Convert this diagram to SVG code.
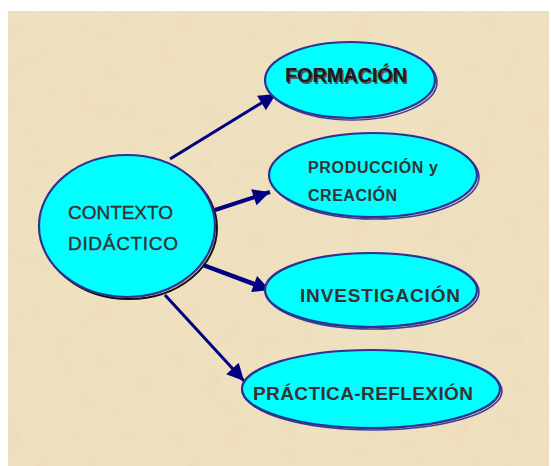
<svg xmlns="http://www.w3.org/2000/svg" width="551" height="466" viewBox="0 0 551 466">
<style>
.node{fill:#00ffff;stroke:#2e3192;stroke-width:2.2}
.shadow{fill:none;stroke:#3a3d99;stroke-width:1.6}
.t{font-family:"Liberation Sans",Arial,sans-serif;fill:#333333}
.b{font-weight:bold}
.conn{stroke:#000080;fill:none}
</style>
<defs>
<marker id="ah" viewBox="0 0 10 10" refX="10" refY="5" markerUnits="userSpaceOnUse" markerWidth="20" markerHeight="17" orient="auto">
<path d="M0,0 L10,5 L0,10 z" fill="#000080"/>
</marker>
<filter id="tex" x="0" y="0" width="100%" height="100%">
<feTurbulence type="fractalNoise" baseFrequency="0.04" numOctaves="4" seed="3" result="n"/>
<feColorMatrix in="n" type="matrix" values="0 0 0 0 0.84  0 0 0 0 0.71  0 0 0 0 0.50  0 0 0 1.8 -0.75" result="c"/>
<feComposite in="c" in2="SourceGraphic" operator="atop"/>
</filter>
</defs>
<rect x="0" y="0" width="551" height="466" fill="#ffffff"/>
<rect x="8" y="11" width="541" height="455" fill="#efe1bf" filter="url(#tex)"/>
<g id="connectors">
<line class="conn" x1="170" y1="159" x2="276" y2="94" stroke-width="3" marker-end="url(#ah)"/>
<line class="conn" x1="215" y1="210" x2="270" y2="192" stroke-width="4" marker-end="url(#ah)"/>
<line class="conn" x1="203" y1="265" x2="270" y2="290" stroke-width="4.5" marker-end="url(#ah)"/>
<line class="conn" x1="165" y1="295" x2="244" y2="381" stroke-width="3" marker-end="url(#ah)"/>
</g>
<g id="contexto">
<ellipse cx="129" cy="228" rx="88" ry="71" fill="none" stroke="#111111" stroke-width="2"/>
<ellipse cx="127" cy="226" rx="88" ry="71" class="node" stroke="#1a1a8a"/>
<text class="t" x="68" y="219" font-size="19" stroke="#333333" stroke-width="0.4" textLength="105">CONTEXTO</text>
<text class="t" x="68" y="250" font-size="19" stroke="#333333" stroke-width="0.4" textLength="110">DIDÁCTICO</text>
</g>
<g id="formacion">
<ellipse cx="352" cy="82" rx="85" ry="38" class="shadow"/>
<ellipse cx="350" cy="80" rx="85" ry="38" class="node"/>
<text x="286.5" y="83.5" font-size="20" class="b" font-family="Liberation Sans,Arial,sans-serif" fill="#555555" textLength="122">FORMACIÓN</text>
<text x="285" y="82" font-size="20" class="b" font-family="Liberation Sans,Arial,sans-serif" fill="#1a1a1a" textLength="122">FORMACIÓN</text>
</g>
<g id="produccion">
<ellipse cx="375" cy="177" rx="104" ry="42" class="shadow"/>
<ellipse cx="373" cy="175" rx="104" ry="42" class="node"/>
<text class="t b" x="308" y="173" font-size="16" textLength="130">PRODUCCIÓN y</text>
<text class="t b" x="308" y="201" font-size="16" textLength="89">CREACIÓN</text>
</g>
<g id="investigacion">
<ellipse cx="373" cy="292" rx="106" ry="37" class="shadow"/>
<ellipse cx="371" cy="290" rx="106" ry="37" class="node"/>
<text class="t b" x="300" y="302" font-size="19" textLength="160">INVESTIGACIÓN</text>
</g>
<g id="practica">
<ellipse cx="373" cy="391" rx="129" ry="39" class="shadow"/>
<ellipse cx="371" cy="389" rx="129" ry="39" class="node"/>
<text class="t b" x="253" y="400" font-size="19" textLength="220">PRÁCTICA-REFLEXIÓN</text>
</g>
</svg>
